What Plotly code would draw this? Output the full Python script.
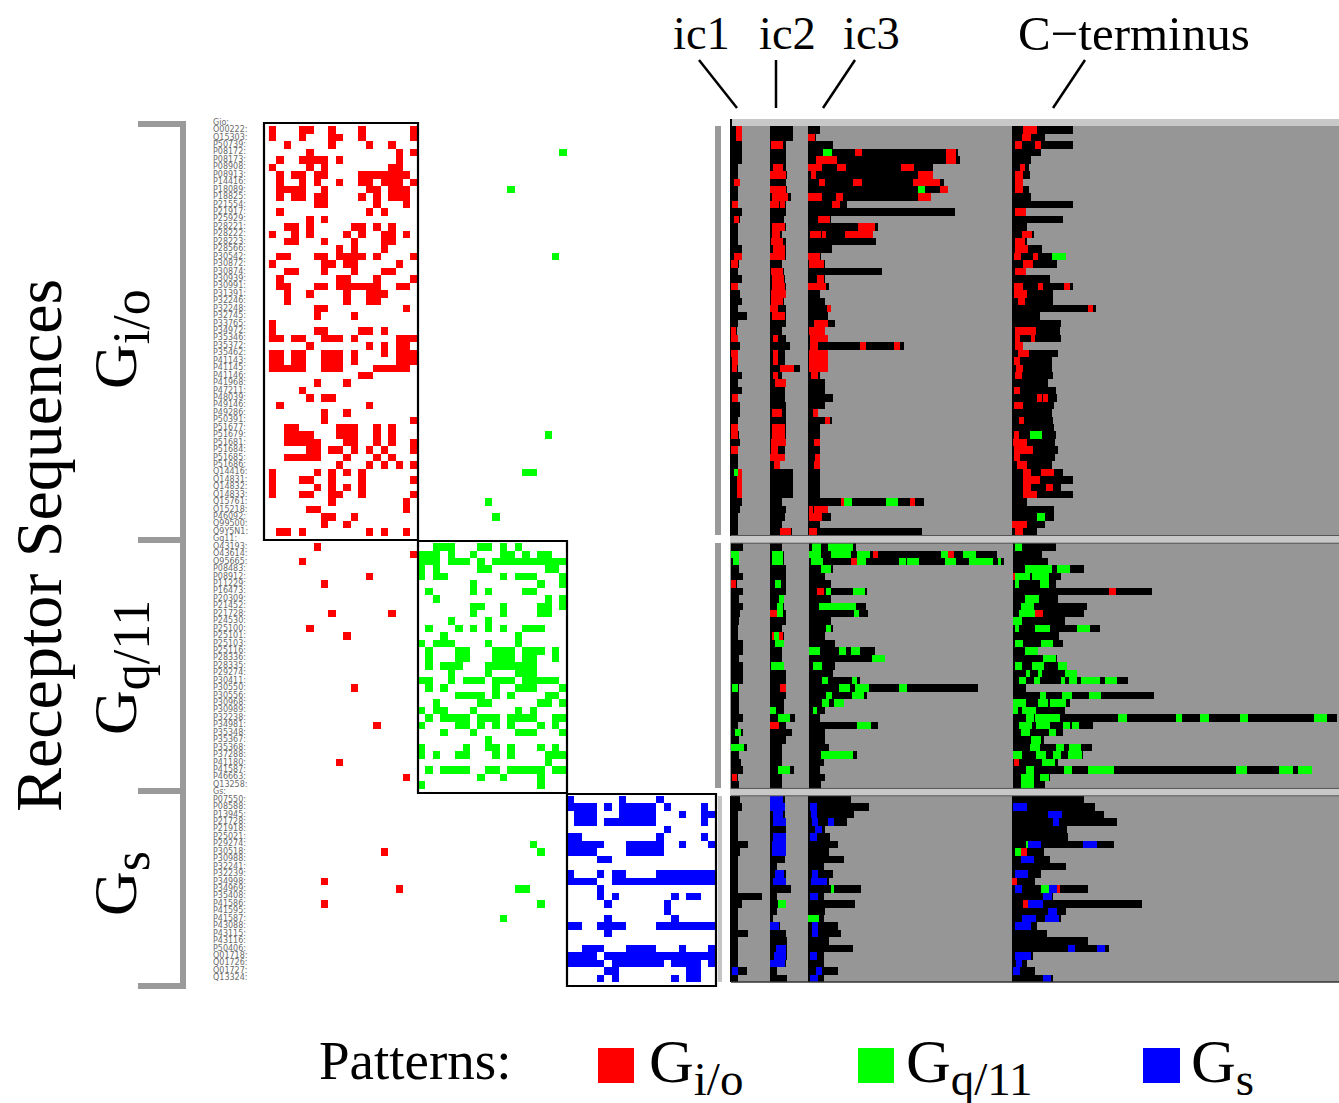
import plotly.graph_objects as go

W, H = 1339, 1103

# ---------- row labels ----------
gi_ids = """O00222 Q15303 P50739 P08172 P08173 P08908 P08913 P14416 P18089 P18825 P21554 P21917 P25929 P28221 P28222
P28223 P28566 P30542 P30872 P30874 P30939 P30991 P31391 P32246 P32248 P32745 P33765 P34972 P35346 P35372 P35462
P41143 P41145 P41146 P41968 P47211 P48039 P49146 P49286 P50391 P51677 P51679 P51681 P51684 P51685 P51686 Q14416
Q14831 Q14832 Q14833 Q15761 O15218 P46092 Q99500 Q9Y5N1""".split()
gq_ids = """O43193 O43614 O95665 P08483 P08912 P11229 P16473 P20309 P21452 P21728 P24530 P25100 P25101 P25103 P25116 P28336
P28335 P29274 P30411 P30550 P30556 P30968 P30989 P32238 P34981 P35348 P35367 P35368 P37288 P41180 P41587 P46663 Q13258""".split()
gs_ids = """P07550 P08588 P13945 P21728 P21918 P25021 P29274 P30518 P30988 P32241 P32239 P34998 P34969 P35408 P41586 P41595
P41587 P43088 P43115 P43116 P50406 Q01718 Q01726 Q01727 Q13324""".split()

# ---------- left pattern matrix ----------
gi_patterns = [
"#...##..#...#......#","#...#...##..#......#","..#.....#....#..#...",".....#...........#.#",".#..####.#.......#..",
"#....#.#........##..",".#.##.##....#######.",".#..#.#..#..##.###.#",".####..#.....##.###.",".#.##.##....#.#.###.",
"......##......#...#.",".#...........#.#....",".....#.#............","..##.#.....##.#.#...","#..#.#....#.#..##.#.",
"..##...#...#...##...",".........#.#...#....",".##...##.####.#....#","#......##.##.....#..","..##...#...#...##...",
".#.......##...#....#",".##...##.######..##.","..#..#....#..###....","..#.......#..##.....","......##..........#.",
"......#....#........","#...................","#.....##....##.#....","##.##..###.#.....###",".....#.......#.#.##.",
"##.##..###.#...#.###","##.##..###.#.....###","#####..###....#####.","............##......","......#...#.........",
"....#...............",".....#.##...........",".#...........#......",".......#..#.........",".......#...........#",
"..##.....###..#.#...","..####...###..#.#...","..#####...##..#.#..#",".....##.##.#.#.#...#","..#####...#...#.#...",
".........#...#.#.#.#","#.....#.#.#.#.......","#...##..#...#......#","#.....#.#.#.#.......","#...##..##..#......#",
"........#.........#.",".....##...........#.",".......##..#........",".......#..#.........",".##.#........#.#..#.",
]
gq_patterns = [
"..###...##.#.#......","###.#..#...##.#.##..","###.###.#.##########","#.#.....##.......##.","#.##.......#.###...#",
".......#........#..#",".#.....#.#....##....","..#..............#.#",".......##..#....##.#",".......#...#....##..",
"....#....#..........",".#...#.#.#.#..###...","...#.........#......","#.###....#...#......",".#...##...###.###.#.",
".#...##...###.##..#.",".#.###...#######....","....#....#...###....","##..#.###.###.#####.",".#.#......#..###...#",
".....####.#.#....##.","..#.....##......##.#","#.##...#.....#.#....",".#.####.###.####..##","#....##.#.#.#...#.#.",
"...#...#.....###...#",".........#..........","#.....#..##.#...#.#.","#.#..##...#.#....###",".................#..",
".#.####..##.#####.##","........#..#....#...","#...............#...",
]
gs_patterns = [
"#......#....#.......","####.#.#####.#....#.",".###...#####...#..##",".###.#######......#.",".............#......",
"##..........#.....#.","#####...#####..#...#","####....#####.......","....##..............","....................",
"#...#.##....########","####..##############","....#...............","....#.#.......#.##..",".....#.......#......",
".............#......",".....#........#.....","##..####....########",".....#..............","....................",
"..###...####...#...#","####.###############","#####.#######.####.#",".....##.........##..","....#.#.......#.##..",
]
# (row in its group, column) of patterns that fall outside the diagonal blocks
gi_green_hits = [(3,39),(8,32),(17,38),(41,37),(46,34),(46,35),(50,29),(52,30)]
gq_red_hits = [(0,6),(1,19),(2,4),(4,13),(5,7),(9,16),(9,8),(11,5),(12,10),(19,11),(24,14),(29,9),(31,18)]
gs_red_hits = [(7,15),(11,7),(12,17),(14,7)]
gs_green_hits = [(6,35),(7,36),(12,33),(12,34),(14,36),(16,31)]

# ---------- right panel: alignment extents per receptor (reading units) ----------
gi_ic1 = [52,52,52,52,52,40,40,45,40,40,40,52,45,38,38,38,52,52,42,40,52,40,45,52,40,65,40,35,40,45,40,38,38,52,40,52,40,45,45,40,40,42,45,38,38,38,52,50,50,50,52,45,40,40,40]
gi_ic2 = [203,203,183,183,183,183,185,183,185,198,183,183,178,183,170,183,183,183,170,178,180,183,183,178,183,183,183,170,182,195,180,180,225,172,183,180,180,183,183,183,183,183,183,180,180,165,203,203,203,203,170,182,180,170,200]
gi_ic3 = [285,272,325,698,706,625,625,657,670,617,365,690,318,458,445,452,320,288,300,470,300,313,285,300,318,310,330,300,310,538,310,310,310,285,300,300,325,300,278,322,285,285,286,286,286,286,285,285,285,285,597,310,318,285,590]
gi_ct = [1045,960,1045,948,918,912,915,895,912,917,1043,902,1013,905,928,905,950,1022,995,902,975,1045,985,985,1113,945,1008,1005,1008,895,998,980,980,983,968,992,995,988,980,985,988,993,990,998,990,980,1013,1045,1008,1045,905,987,988,960,937]
gi_red = [
(0,33,50),(1,33,50),(7,26,44),(10,22,38),(12,27,43),(17,28,50),(18,18,40),(21,18,40),(27,18,33),(28,18,40),(30,18,40),(31,20,38),(32,22,35),
(36,22,38),(40,18,40),(41,18,40),(43,18,38),(46,40,52),(47,35,50),(48,35,50),(49,35,50),
(2,137,174),(5,143,174),(6,135,183),(8,135,183),(9,140,188),(10,135,162),(10,166,180),(13,140,180),(14,140,165),(15,137,175),(16,145,180),(17,135,180),
(19,137,175),(20,140,177),(21,140,180),(22,137,182),(23,137,175),(24,135,160),(25,140,180),(28,145,160),(30,145,160),(31,145,160),(32,165,207),(33,145,158),
(34,150,183),(38,140,172),(40,140,180),(41,140,180),(42,138,183),(43,137,160),(44,135,180),(45,148,165),(54,165,197),
(1,250,270),(3,390,410),(3,662,692),(4,272,335),(4,662,692),(5,250,290),(5,335,362),(5,528,568),(6,258,272),(6,580,625),(7,283,300),(7,385,412),(7,565,645),
(8,645,670),(9,250,292),(9,333,355),(9,578,617),(10,320,345),(12,278,316),(13,400,450),(14,256,288),(14,292,303),(14,360,445),(17,250,286),(18,253,298),
(20,276,298),(21,250,303),(24,305,317),(26,266,308),(27,253,300),(28,255,310),(29,255,280),(29,405,422),(29,507,525),(30,253,310),(31,253,310),(32,253,310),
(33,258,280),(38,263,278),(39,300,315),(42,268,286),(44,270,286),(45,268,286),(50,348,356),(50,555,570),(51,253,265),(51,268,308),(52,253,290),(54,252,276),
(0,895,935),(1,892,918),(2,870,890),(2,930,948),(5,885,900),(6,870,895),(7,870,895),(8,870,895),(11,870,902),(14,892,922),(15,870,900),(16,870,908),(17,868,888),(17,925,940),
(18,895,925),(19,870,902),(21,868,895),(21,940,955),(21,1018,1035),(22,868,905),(23,878,900),(24,1090,1105),(27,870,933),(28,870,885),(28,918,930),(29,870,895),(30,878,912),
(31,868,885),(32,872,893),(33,870,892),(35,868,885),(36,937,950),(36,955,968),(37,868,893),(39,882,897),(41,868,882),(42,865,905),(43,868,925),(44,868,885),(45,875,905),
(46,895,918),(46,947,988),(47,895,945),(48,895,918),(48,962,985),(49,895,937),(53,862,905),(54,870,895),
]
gi_green = [(46,26,40),(3,293,322),(8,580,600),(50,356,380),(50,484,518),(17,982,1022),(41,915,950),(52,937,960)]

gq_ic1 = [45,35,35,35,45,30,45,35,45,38,35,32,32,45,45,35,45,45,45,35,35,35,35,45,32,45,35,55,35,40,45,32,35]
gq_ic2 = [145,150,150,155,155,155,155,150,150,155,155,145,150,150,145,145,150,155,155,155,155,150,150,178,155,172,155,145,145,145,175,145,145]
gq_ic3 = [335,695,712,275,255,270,362,270,360,365,272,275,255,280,382,408,280,275,345,645,362,305,255,243,390,255,255,265,338,252,242,255,245]
gq_ct = [845,810,825,918,858,845,1090,850,925,918,868,958,852,862,800,848,873,900,1030,768,1095,882,868,1563,940,862,815,938,915,850,1498,830,818]
gq_red = [(5,15,28),(31,18,30),(9,115,133),(12,120,125),(12,138,148),(19,140,156),(24,115,138),(1,378,392),(1,570,585),(2,322,336),(6,235,253),(4,735,740),(6,982,998),(9,792,812),(29,738,752)]
gq_green = [
(1,15,35),(2,20,35),(19,18,34),(25,26,40),(27,15,48),
(1,120,148),(2,120,148),(5,128,142),(7,137,150),(8,132,148),(9,133,148),(12,125,138),(13,128,150),(16,117,150),(22,115,130),(23,135,165),(30,135,165),
(0,222,245),(0,262,328),(1,215,245),(1,272,322),(1,337,370),(1,552,570),(1,608,640),(2,220,250),(2,336,360),(2,445,462),(2,465,496),(2,563,590),(2,622,685),(2,698,705),
(3,245,270),(6,258,272),(6,328,358),(8,240,335),(9,330,342),(11,258,272),(14,215,243),(14,290,310),(14,322,346),(15,376,408),(16,225,248),(18,248,264),(18,324,338),
(19,290,318),(19,332,368),(19,445,466),(20,258,274),(20,325,355),(21,248,265),(21,278,303),(22,225,236),(24,337,372),(28,245,328),
(0,740,758),(3,765,835),(3,848,882),(4,740,778),(4,785,828),(5,740,752),(5,805,828),(7,765,802),(8,755,788),(9,750,792),(10,735,758),(11,740,752),(11,793,830),(11,900,932),
(13,740,762),(13,808,838),(14,765,800),(15,812,845),(16,740,758),(16,785,815),(16,850,873),(17,768,778),(17,800,810),(17,868,898),(18,752,768),(18,788,804),(18,858,868),(18,878,898),(18,908,958),(18,970,1000),
(20,805,820),(20,860,885),(20,930,960),(21,735,768),(21,800,826),(21,830,872),(22,735,748),(22,758,795),(23,770,790),(23,793,855),(23,1003,1027),(23,1152,1168),(23,1213,1235),(23,1316,1337),(23,1505,1537),
(24,750,785),(24,795,830),(24,862,882),(24,885,905),(25,755,778),(25,828,845),(26,782,808),(27,778,805),(27,845,865),(27,878,908),(28,735,758),(28,795,820),(28,838,858),(28,875,912),
(29,810,842),(30,770,790),(30,865,887),(30,926,993),(30,1305,1333),(30,1415,1450),(30,1463,1498),(31,755,790),(31,805,828),(32,755,790),
]

gs_ic1 = [45,52,40,40,40,40,68,45,40,40,40,40,40,110,52,40,40,40,68,40,40,40,40,65,40]
gs_ic2 = [180,180,180,183,183,183,183,183,180,155,183,183,198,155,182,155,145,165,183,185,185,185,183,157,185]
gs_ic3 = [378,432,388,365,300,315,338,312,357,298,325,312,407,297,390,300,298,340,348,312,385,298,298,338,298]
gs_ct = [1078,1110,1137,1177,1025,1030,1168,958,975,1023,948,930,1090,985,1250,1022,1008,935,965,1090,1152,925,905,930,985]
gs_blue = [
(23,20,40),(0,135,175),(1,135,180),(2,145,175),(3,145,182),(5,145,182),(6,140,182),(7,140,183),(10,150,178),(11,145,182),(17,135,162),(20,152,182),(21,147,182),(22,135,180),
(1,256,275),(2,258,275),(3,260,278),(3,310,328),(4,270,292),(5,256,275),(10,262,280),(11,258,307),(13,256,280),(17,262,280),(18,262,280),(21,256,275),(23,273,292),(24,256,280),
(1,865,905),(2,968,1012),(3,983,1002),(6,910,948),(6,1073,1115),(8,888,927),(10,870,910),(12,870,890),(12,972,995),(13,955,980),(14,910,953),(15,970,995),(16,890,932),(16,960,1003),
(17,870,918),(20,1030,1050),(20,1115,1140),(21,870,918),(22,872,892),(23,863,885),(24,955,977),
]
gs_green = [(14,160,182),(12,318,327),(16,250,283),(6,903,910),(7,870,888),(12,947,972)]
gs_red = [(7,888,906),(11,862,877),(12,995,1005),(14,895,910)]

# reading scale of the crops the extents were read from (units per screen pixel)
gi_scale, gq_scale, gs_scale = 3.0, 2.554, 3.0
region_starts = {"gi": (16,135,250,862), "gq": (15,115,215,735), "gs": (16,135,250,862)}

# ---------- layout constants ----------
Y0, Y1 = 119, 982
N_ROWS = 1 + len(gi_ids) + 1 + len(gq_ids) + 1 + len(gs_ids)
GI0, GQ0, GS0 = 1, 2 + len(gi_ids), 3 + len(gi_ids) + len(gq_ids)
PX0, PXW = 730, 609

# left matrix
left = [[0]*60 for _ in range(N_ROWS)]
for base, pats, code, off in ((GI0, gi_patterns, 1, 0), (GQ0, gq_patterns, 2, 20), (GS0, gs_patterns, 3, 40)):
    for r, s in enumerate(pats):
        for c, ch in enumerate(s):
            if ch == "#":
                left[base + r][off + c] = code
for base, hits, code in ((GI0, gi_green_hits, 2), (GQ0, gq_red_hits, 1), (GS0, gs_red_hits, 1), (GS0, gs_green_hits, 2)):
    for r, c in hits:
        left[base + r][c] = code

# right panel grid: one column per screen pixel
BG, SEP, BLK, RED, GRN, BLU = 0, 1, 2, 3, 4, 5
right = [[BG]*PXW for _ in range(N_ROWS)]
for r in (0, GQ0 - 1, GS0 - 1):
    right[r] = [SEP]*PXW
def col(v, scale):
    return max(0, min(PXW, int(round(v/scale + 725 - PX0))))
def fill(row, a, b, code, scale):
    for c in range(col(a, scale), col(b, scale)):
        right[row][c] = code
groups = (
    ("gi", GI0, gi_scale, (gi_ic1, gi_ic2, gi_ic3, gi_ct), ((gi_red, RED), (gi_green, GRN))),
    ("gq", GQ0, gq_scale, (gq_ic1, gq_ic2, gq_ic3, gq_ct), ((gq_red, RED), (gq_green, GRN))),
    ("gs", GS0, gs_scale, (gs_ic1, gs_ic2, gs_ic3, gs_ct), ((gs_blue, BLU), (gs_green, GRN), (gs_red, RED))),
)
for name, base, scale, ends, patches in groups:
    for start, arr in zip(region_starts[name], ends):
        for r, e in enumerate(arr):
            fill(base + r, start, e, BLK, scale)
    for plist, code in patches:
        for r, a, b in plist:
            fill(base + r, a, b, code, scale)

labels = ["Gio:"] + [i + ":" for i in gi_ids] + ["Gq11:"] + [i + ":" for i in gq_ids] + ["Gs:"] + [i + ":" for i in gs_ids]

def step_scale(colors):
    n = len(colors)
    out = []
    for i, c in enumerate(colors):
        out += [[i/n, c], [(i+1)/n, c]]
    return out

fig = go.Figure()
fig.add_trace(go.Heatmap(z=left, x=list(range(60)), y=list(range(N_ROWS)), zmin=-0.5, zmax=3.5,
                         colorscale=step_scale(["#ffffff", "#ff0000", "#00ff00", "#0000ff"]),
                         showscale=False, hoverinfo="skip", xaxis="x", yaxis="y"))
fig.add_trace(go.Scatter(x=[-8.0]*N_ROWS, y=list(range(N_ROWS)), text=labels, mode="text",
                         textposition="middle right", cliponaxis=False,
                         textfont=dict(family="DejaVu Sans", size=8, color="#6a6a6a"),
                         hoverinfo="skip", showlegend=False, xaxis="x", yaxis="y"))
fig.add_trace(go.Heatmap(z=right, x=[PX0 + i + 0.5 for i in range(PXW)], y=list(range(N_ROWS)), zmin=-0.5, zmax=5.5,
                         colorscale=step_scale(["#969696", "#c8c8c8", "#000000", "#ff0000", "#00ff00", "#0000ff"]),
                         showscale=False, hoverinfo="skip", xaxis="x2", yaxis="y"))

def X(p): return p / W
def Y(p): return 1 - p / H

shapes = []
def rect(x0, y0, x1, y1, color, line=None, lw=0):
    shapes.append(dict(type="rect", xref="paper", yref="paper", x0=X(x0), x1=X(x1), y0=Y(y0), y1=Y(y1),
                       fillcolor=color, line=dict(color=line or color, width=lw), layer="above"))
def seg(x0, y0, x1, y1, color="#000000", lw=2.5):
    shapes.append(dict(type="line", xref="paper", yref="paper", x0=X(x0), x1=X(x1), y0=Y(y0), y1=Y(y1),
                       line=dict(color=color, width=lw), layer="above"))

# pattern blocks
for x0, y0, x1, y1 in ((264, 123, 418, 540), (418, 541, 567, 793), (567, 794, 716, 986)):
    rect(x0, y0, x1, y1, "rgba(0,0,0,0)", "#000000", 2.2)
# brackets
GREY = "#9a9a9a"
seg(183, 121, 183, 989, GREY, 6)
for yy in (124, 540, 791, 986):
    seg(138, yy, 186, yy, GREY, 6)
# separators between matrix and panel
seg(718, 126, 718, 535, GREY, 6)
seg(718, 543, 718, 788, GREY, 6)
seg(720, 796, 720, 982, "#c4c4c4", 4)
# panel edges
seg(731, 982, W, 982, "#333333", 1.5)
seg(731, 119, 731, 126, "#000000", 2)
seg(731, 535.5, W, 535.5, "#555555", 1)
seg(731, 543.2, W, 543.2, "#555555", 1)
seg(731, 788.4, W, 788.4, "#555555", 1)
seg(731, 795.8, W, 795.8, "#555555", 1)
# region leader lines
seg(699, 60, 737, 108)
seg(776, 60, 776, 108)
seg(855, 60, 823, 108)
seg(1085, 60, 1053, 108)
# legend swatches
rect(598, 1048, 634, 1083, "#ff0000")
rect(858, 1048, 894, 1083, "#00ff00")
rect(1143, 1048, 1180, 1083, "#0000ff")

SERIF = "Liberation Serif"
def note(text, x, y, size, angle=0, xanchor="center"):
    return dict(text=text, xref="paper", yref="paper", x=X(x), y=Y(y), xanchor=xanchor, yanchor="middle",
                showarrow=False, textangle=angle, font=dict(family=SERIF, size=size, color="#000000"))
def sub(main, s, px=52):
    return f"{main}<sub><span style='font-size:{px}px'>{s}</span></sub>"
annots = [
    note("ic1", 701, 34, 46.5), note("ic2", 787, 34, 46.5), note("ic3", 871, 34, 46.5),
    note("C\u2212terminus", 1134, 34, 49),
    note("Receptor Sequences", 38, 546, 66, -90),
    note(sub("G", "i/o"), 120, 339, 62, -90),
    note(sub("G", "q/11"), 120, 668, 62, -90),
    note(sub("G", "s"), 120, 884, 62, -90),
    note("Patterns:", 317, 1060, 55, 0, "left"),
    note(sub("G", "i/o", 47), 647, 1066, 62, 0, "left"),
    note(sub("G", "q/11", 47), 904, 1066, 62, 0, "left"),
    note(sub("G", "s", 47), 1189, 1066, 62, 0, "left"),
]

hidden = dict(visible=False, showgrid=False, zeroline=False, fixedrange=True)
fig.update_layout(
    width=W, height=H, autosize=False,
    margin=dict(l=0, r=0, t=0, b=0), paper_bgcolor="#ffffff", plot_bgcolor="#ffffff",
    showlegend=False, shapes=shapes, annotations=annots,
    xaxis=dict(domain=[X(213), X(716)], range=[-8, 59.5], anchor="y", **hidden),
    xaxis2=dict(domain=[X(PX0), X(PX0 + PXW)], range=[PX0, PX0 + PXW], anchor="y", **hidden),
    yaxis=dict(domain=[Y(Y1), Y(Y0)], range=[N_ROWS - 0.5, -0.5], **hidden),
)
fig.write_html("out.html", config=dict(displayModeBar=False),
               post_script="document.body.style.margin='0';document.body.style.overflow='hidden';")
